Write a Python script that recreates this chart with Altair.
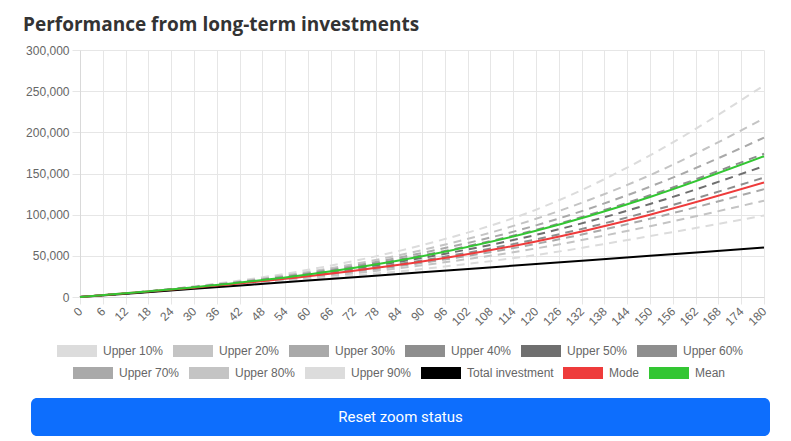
import altair as alt
import pandas as pd

# ---- data (month -> value) ----
months = [0, 30, 60, 90, 120, 150, 180]

upper_10 = [0, 13000, 33000, 63000, 106000, 172000, 257000]
upper_20 = [0, 12500, 30500, 57000, 95000, 148000, 217000]
upper_30 = [0, 12200, 29000, 53500, 87000, 134000, 193500]
upper_40 = [0, 12000, 28000, 50500, 81500, 123500, 174000]
upper_50 = [0, 11700, 26800, 47500, 75500, 113000, 159000]
upper_60 = [0, 11400, 25600, 44500, 70000, 104000, 145000]
upper_70 = [0, 11100, 24400, 41500, 64500, 95000, 131000]
upper_80 = [0, 10800, 23000, 38500, 59000, 86000, 117000]
upper_90 = [0, 10300, 21200, 34000, 51000, 74000, 99000]
total_investment = [0, 10000, 20000, 30000, 40000, 50000, 60000]
mode_values = [0, 11300, 25200, 43000, 67500, 100000, 139000]
mean_values = [0, 11800, 27300, 49500, 80500, 121500, 171000]

series_names = ["Upper 10%", "Upper 20%", "Upper 30%", "Upper 40%", "Upper 50%",
                "Upper 60%", "Upper 70%", "Upper 80%", "Upper 90%",
                "Total investment", "Mode", "Mean"]
series_values = [upper_10, upper_20, upper_30, upper_40, upper_50, upper_60,
                 upper_70, upper_80, upper_90, total_investment, mode_values, mean_values]

x_ticks = list(range(0, 181, 6))
y_ticks = [0, 50000, 100000, 150000, 200000, 250000, 300000]
button_label = ["Reset zoom status"]

rows = []
for name, vals in zip(series_names, series_values):
    for m, v in zip(months, vals):
        rows.append({"month": m, "value": v, "series": name})
df = pd.DataFrame(rows)

group_a = series_names[:6]
group_b = series_names[6:]
group_b_dashed = series_names[6:9]
group_b_solid = series_names[9:]
colors_a = ["#dcdcdc", "#c4c4c4", "#a9a9a9", "#8e8e8e", "#6f6f6f", "#8e8e8e"]
colors_b = ["#a9a9a9", "#c4c4c4", "#dcdcdc", "#000000", "#ee3b3b", "#33c633"]

FONT = "Liberation Sans"

x_enc = alt.X("month:Q", scale=alt.Scale(domain=[0, 180], nice=False),
              axis=alt.Axis(values=x_ticks, labelAngle=-45, title=None, labelOverlap=False,
                            labelAlign="right", labelBaseline="middle", tickSize=7,
                            labelPadding=5, labelFlush=False))
y_enc = alt.Y("value:Q", scale=alt.Scale(domain=[0, 300000], nice=False),
              axis=alt.Axis(values=y_ticks, format=",d", title=None, tickSize=8, labelPadding=3))

legend_common = dict(title=None, orient="none", direction="horizontal", symbolType="stroke",
                     symbolSize=1600, symbolStrokeWidth=12, labelFont=FONT, labelFontSize=12,
                     labelColor="#666666", labelOffset=0,
                     columnPadding=alt.ExprRef(expr="-15"))

base = alt.Chart(df)

layer_a = base.transform_filter(
    alt.FieldOneOfPredicate(field="series", oneOf=group_a)
).mark_line(strokeWidth=2, interpolate="monotone").encode(
    x=x_enc, y=y_enc,
    color=alt.Color("series:N", scale=alt.Scale(domain=group_a, range=colors_a),
                    legend=alt.Legend(legendX=-29, legendY=275, **legend_common)),
    strokeDash=alt.value([8, 6]),
)

layer_bd = base.transform_filter(
    alt.FieldOneOfPredicate(field="series", oneOf=group_b_dashed)
).mark_line(strokeWidth=2, interpolate="monotone").encode(
    x=x_enc, y=y_enc,
    color=alt.Color("series:N", scale=alt.Scale(domain=group_b, range=colors_b),
                    legend=alt.Legend(legendX=-13, legendY=297, **legend_common)),
    strokeDash=alt.value([8, 6]),
)

layer_bs = base.transform_filter(
    alt.FieldOneOfPredicate(field="series", oneOf=group_b_solid)
).mark_line(strokeWidth=2, interpolate="monotone").encode(
    x=x_enc, y=y_enc,
    color=alt.Color("series:N", scale=alt.Scale(domain=group_b, range=colors_b),
                    legend=alt.Legend(legendX=-13, legendY=297, **legend_common)),
)

button_df = pd.DataFrame({"label": button_label})
button_rect = alt.Chart(button_df).mark_rect(color="#0d6efd", cornerRadius=6).encode(
    x=alt.value(-49), x2=alt.value(690), y=alt.value(348), y2=alt.value(386)
)
button_text = alt.Chart(button_df).mark_text(color="white", font="Roboto", fontSize=15).encode(
    x=alt.value(320.5), y=alt.value(367), text="label:N"
)

chart = alt.layer(
    layer_a, alt.layer(layer_bd, layer_bs), button_rect, button_text
).resolve_scale(color="independent").properties(
    width=684, height=247,
    title=alt.Title("Performance from long-term investments", anchor="start", frame="group",
                    font="Open Sans", fontSize=19, fontWeight="bold", color="#333333",
                    dx=-57, dy=-5),
    autosize=alt.AutoSizeParams(type="none"),
    padding={"left": 72, "top": 42, "right": 19, "bottom": 142},
).configure_view(stroke=None).configure_axis(
    domainColor="#d9d9d9", gridColor="#e6e6e6", tickColor="#e6e6e6",
    labelFont=FONT, labelFontSize=12, labelColor="#666666",
)

chart.save("out.html", embed_options={"renderer": "svg", "actions": False})
